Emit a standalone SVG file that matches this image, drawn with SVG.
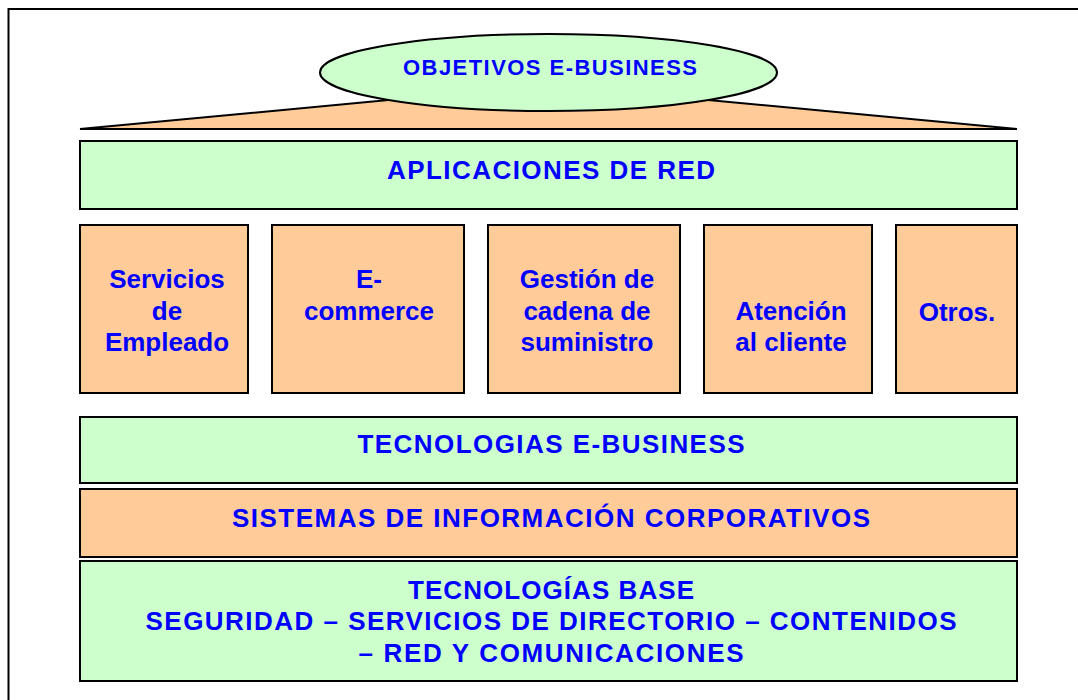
<svg xmlns="http://www.w3.org/2000/svg" width="1078" height="700" viewBox="0 0 1078 700">
  <style>
    .g { fill: #CCFFCC; stroke: #000; stroke-width: 2; }
    .o { fill: #FFCC99; stroke: #000; stroke-width: 2; }
    .t { font-family: "Liberation Sans", Arial, sans-serif; font-weight: bold; fill: #0000FF; text-anchor: middle; }
    .band { font-size: 26px; }
    .box { font-size: 26px; }
  </style>
  <rect x="0" y="0" width="1078" height="700" fill="#FFFFFF"/>
  <rect id="frame" x="8.5" y="9" width="1090" height="720" fill="none" stroke="#000" stroke-width="2"/>
  <g id="connectors">
    <polygon id="pyramid" points="80,129 1017,129 548,85" fill="#FFCC99" stroke="#000" stroke-width="2" stroke-linejoin="miter"/>
  </g>
  <g id="objetivos">
    <ellipse class="g" cx="548.5" cy="72.5" rx="228.5" ry="38.5"/>
    <text class="t" x="550" y="75" font-size="22" textLength="294" lengthAdjust="spacing">OBJETIVOS E-BUSINESS</text>
  </g>
  <g id="aplicaciones">
    <rect class="g" x="80" y="141" width="937" height="68"/>
    <text class="t band" x="551" y="179" textLength="328" lengthAdjust="spacing">APLICACIONES DE RED</text>
  </g>
  <g id="servicios">
    <rect class="o" x="80" y="225" width="168" height="168"/>
    <text class="t box" x="167" y="288">Servicios</text>
    <text class="t box" x="167" y="320">de</text>
    <text class="t box" x="167" y="351">Empleado</text>
  </g>
  <g id="ecommerce">
    <rect class="o" x="272" y="225" width="192" height="168"/>
    <text class="t box" x="369" y="288">E-</text>
    <text class="t box" x="369" y="320">commerce</text>
  </g>
  <g id="gestion">
    <rect class="o" x="488" y="225" width="192" height="168"/>
    <text class="t box" x="587" y="288">Gestión de</text>
    <text class="t box" x="587" y="320">cadena de</text>
    <text class="t box" x="587" y="351">suministro</text>
  </g>
  <g id="atencion">
    <rect class="o" x="704" y="225" width="168" height="168"/>
    <text class="t box" x="791" y="320">Atención</text>
    <text class="t box" x="791" y="351">al cliente</text>
  </g>
  <g id="otros">
    <rect class="o" x="896" y="225" width="121" height="168"/>
    <text class="t box" x="957" y="321" font-size="24">Otros.</text>
  </g>
  <g id="tecnologias-ebusiness">
    <rect class="g" x="80" y="417" width="937" height="66"/>
    <text class="t band" x="551" y="453" textLength="387" lengthAdjust="spacing">TECNOLOGIAS E-BUSINESS</text>
  </g>
  <g id="sistemas">
    <rect class="o" x="80" y="489" width="937" height="68"/>
    <text class="t band" x="551" y="527" textLength="638" lengthAdjust="spacing">SISTEMAS DE INFORMACIÓN CORPORATIVOS</text>
  </g>
  <g id="tecnologias-base">
    <rect class="g" x="80" y="561" width="937" height="120"/>
    <text class="t band" x="551" y="599" textLength="286" lengthAdjust="spacing">TECNOLOGÍAS BASE</text>
    <text class="t band" x="551" y="630" textLength="811" lengthAdjust="spacing">SEGURIDAD – SERVICIOS DE DIRECTORIO – CONTENIDOS</text>
    <text class="t band" x="551" y="662" textLength="385" lengthAdjust="spacing">– RED Y COMUNICACIONES</text>
  </g>
</svg>
